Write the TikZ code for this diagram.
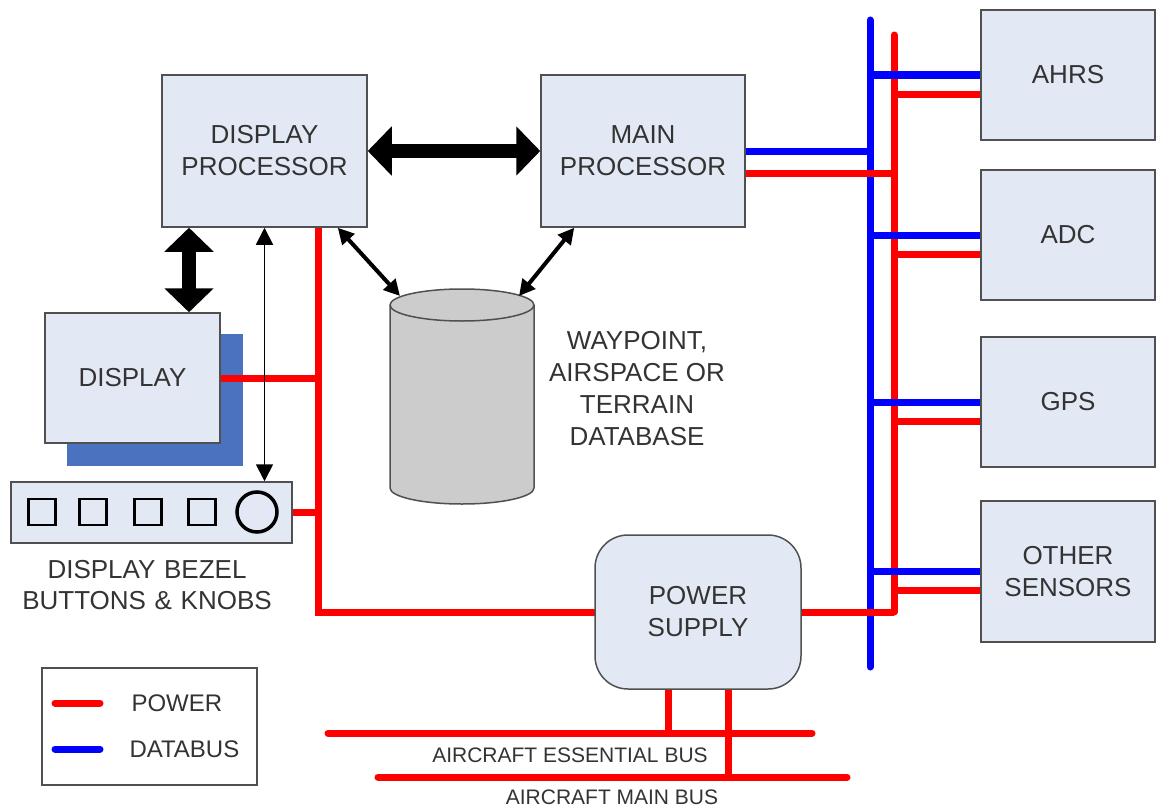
\documentclass[tikz,border=0pt]{standalone}
\usepackage{fontspec}
\setmainfont{Liberation Sans}
\usetikzlibrary{arrows.meta,calc}
\definecolor{boxfill}{HTML}{E3E9F4}
\definecolor{boxline}{HTML}{505050}
\definecolor{txt}{HTML}{333333}
\definecolor{shadowblue}{HTML}{4A72BF}
\definecolor{pwred}{HTML}{FF0000}
\definecolor{dbblue}{HTML}{0000FF}
\definecolor{cylgray}{HTML}{CCCCCC}
\tikzset{
  unit/.style={draw=boxline, line width=1.5pt, fill=boxfill, text=txt, align=center,
     font=\fontsize{26}{32}\selectfont, inner sep=0pt},
  pw/.style={draw=pwred, line width=7pt},
  dbl/.style={draw=dbblue, line width=7pt},
  fat/.style={line width=14pt, {Triangle[length=24pt,width=48pt]}-{Triangle[length=24pt,width=48pt]}},
  mid/.style={line width=4pt, {Triangle[length=16pt,width=16pt]}-{Triangle[length=16pt,width=16pt]}},
  thin/.style={line width=1.8pt, {Triangle[length=17pt,width=17pt]}-{Triangle[length=17pt,width=17pt]}},
  lbl/.style={text=txt, align=center, font=\fontsize{26}{31.7}\selectfont},
  buslbl/.style={text=txt, font=\fontsize{21}{25}\selectfont},
  leglbl/.style={text=txt, anchor=west, font=\fontsize{24}{28}\selectfont},
  btn/.style={draw=black, line width=2.5pt, minimum width=27pt, minimum height=26pt, inner sep=0pt},
}
\begin{document}
\begin{tikzpicture}[x=1pt,y=-1pt]
\useasboundingbox (0,0) rectangle (1159,808);

% coordinates
\coordinate (jPS) at (318,612);
\coordinate (bT) at (870,20);
\coordinate (bB) at (870,667);
\coordinate (rT) at (894,35);
\coordinate (rC) at (894,612);
\coordinate (ess1) at (328,733);
\coordinate (ess2) at (812,733);
\coordinate (main1) at (378,777);
\coordinate (main2) at (847,777);
\coordinate (dbL) at (400,296);
\coordinate (dbR) at (519,296);

% nodes (geometry first, for line routing)
\node[unit, minimum width=205pt, minimum height=152pt] (dp) at (264.5,151) {DISPLAY\\PROCESSOR};
\node[unit, minimum width=204pt, minimum height=152pt] (mp) at (643,151) {MAIN\\PROCESSOR};
\node[unit, minimum width=174pt, minimum height=130pt] (ahrs) at (1068,75) {AHRS};
\node[unit, minimum width=174pt, minimum height=130pt] (adc) at (1068,235) {ADC};
\node[unit, minimum width=174pt, minimum height=130pt] (gps) at (1068,402) {GPS};
\node[unit, minimum width=174pt, minimum height=141pt] (oth) at (1068,571.5) {OTHER\\SENSORS};

% display with shadow
\fill[shadowblue] (67,334) rectangle (243,466);
\node[unit, minimum width=175pt, minimum height=130pt] (disp) at (132.5,378) {DISPLAY};

% power wiring (left)
\draw[pw] (dp.south -| jPS) -- (jPS) -- (jPS -| 597,0);
\draw[pw] (disp.east) -- (disp.east -| jPS);
\draw[pw] (290,512.5) -- (290,512.5 -| jPS);

% buses on the right
\draw[dbl, line cap=round] (bT) -- (bB);
\draw[pw, line cap=round] (rT) -- (rC);
\draw[pw] (rC) -- (798,612);
\draw[dbl] (mp.east) -- (mp.east -| bT);
\draw[pw] ([yshift=-22pt]mp.east) -- ([yshift=-22pt]mp.east -| rT);
\foreach \n in {ahrs,adc,gps,oth}{
  \draw[dbl] (\n.west -| bT) -- (\n.west);
  \draw[pw] ([yshift=-19pt]\n.west -| rT) -- ([yshift=-19pt]\n.west);
}

% aircraft buses
\draw[pw, line cap=round] (ess1) -- (ess2);
\draw[pw, line cap=round] (main1) -- (main2);
\draw[pw] (668,640) -- (668,733);
\draw[pw] (728,640) -- (728,777);

% bezel
\node[unit, minimum width=281pt, minimum height=61pt] (bezel) at (151.5,512.5) {};
\foreach \x/\k in {42/1,93/2,148/3,202/4}{
  \node[btn] (b\k) at (\x,512) {};
}
\node[draw=black, line width=3.5pt, circle, minimum size=40pt, inner sep=0pt] (knob) at (257,512) {};
\node[lbl, text width=300pt] (bezlbl) at (147,585) {DISPLAY BEZEL\\BUTTONS \& KNOBS};

% power supply
\node[unit, rounded corners=33pt, minimum width=206pt, minimum height=154pt] (ps) at (698,612) {POWER\\SUPPLY};

% redraw box nodes over wires
\node[unit, minimum width=205pt, minimum height=152pt] at (264.5,151) {DISPLAY\\PROCESSOR};
\node[unit, minimum width=204pt, minimum height=152pt] at (643,151) {MAIN\\PROCESSOR};
\node[unit, minimum width=174pt, minimum height=130pt] at (1068,75) {AHRS};
\node[unit, minimum width=174pt, minimum height=130pt] at (1068,235) {ADC};
\node[unit, minimum width=174pt, minimum height=130pt] at (1068,402) {GPS};
\node[unit, minimum width=174pt, minimum height=141pt] at (1068,571.5) {OTHER\\SENSORS};

% database cylinder
\filldraw[fill=cylgray, draw=boxline, line width=1.5pt]
  (390,305) -- (390,488) arc[start angle=180, end angle=360, x radius=72pt, y radius=16pt]
  -- (534,305) arc[start angle=0, end angle=180, x radius=72pt, y radius=16pt] -- cycle;
\draw[draw=boxline, line width=1.5pt] (534,305) arc[start angle=0, end angle=-180, x radius=72pt, y radius=16pt];
\node[lbl] (dblbl) at (637,388.5) {WAYPOINT,\\AIRSPACE OR\\TERRAIN\\DATABASE};

% arrows
\draw[fat] (dp.east) -- (mp.west);
\draw[fat] ([xshift=-75.5pt]dp.south) -- ([xshift=-75.5pt]dp.south |- disp.north);
\draw[thin] (dp.south) -- (dp.south |- bezel.north);
\draw[mid] ([xshift=-30pt]dp.south east) -- (dbL);
\draw[mid] ([xshift=34pt]mp.south west) -- (dbR);

% bus labels
\node[buslbl] (esslbl) at (570,755) {AIRCRAFT ESSENTIAL BUS};
\node[buslbl] (mainlbl) at (612,797) {AIRCRAFT MAIN BUS};

% legend
\node[draw=boxline, line width=1.5pt, minimum width=215pt, minimum height=117pt, inner sep=0pt] (leg) at (149.5,726.5) {};
\coordinate (lr1) at (55,703); \coordinate (lr2) at (100,703);
\coordinate (lb1) at (55,749); \coordinate (lb2) at (100,749);
\draw[pw, line cap=round] (lr1) -- (lr2);
\draw[dbl, line cap=round] (lb1) -- (lb2);
\node[leglbl] (lp) at (128,703) {POWER};
\node[leglbl] (ld) at (126,749) {DATABUS};
\end{tikzpicture}
\end{document}
